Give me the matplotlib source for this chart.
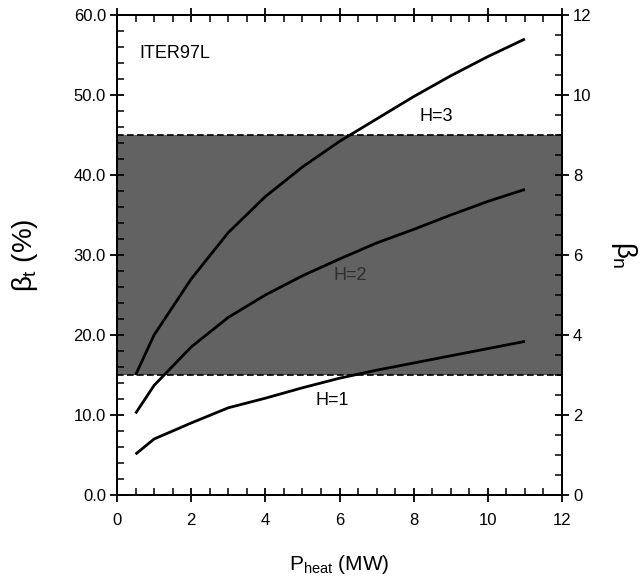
import matplotlib
matplotlib.use("Agg")
import matplotlib.pyplot as plt
from matplotlib.ticker import MultipleLocator, FormatStrFormatter

plt.rcParams['font.family'] = ['Liberation Sans', 'DejaVu Sans']
plt.rcParams['mathtext.fontset'] = 'custom'
plt.rcParams['mathtext.rm'] = 'Liberation Sans'
plt.rcParams['mathtext.it'] = 'Liberation Sans'

# Data
p_heat = [0.5, 1, 2, 3, 4, 5, 6, 7, 8, 9, 10, 11]
beta_h1 = [5.1, 7.0, 9.0, 10.9, 12.1, 13.4, 14.6, 15.6, 16.5, 17.4, 18.3, 19.2]
beta_h2 = [10.2, 13.7, 18.5, 22.2, 25.0, 27.4, 29.5, 31.5, 33.2, 35.0, 36.7, 38.2]
beta_h3 = [15.0, 20.0, 27.0, 32.8, 37.3, 41.0, 44.2, 47.0, 49.8, 52.4, 54.8, 57.0]
band_low, band_high = 15.0, 45.0
curve_labels = ["H=1", "H=2", "H=3"]
label_pos = [(5.8, 11.8), (6.3, 27.5), (8.6, 47.3)]
label_colors = ['black', '#2e2e2e', 'black']

fig = plt.figure(figsize=(6.41, 5.77), dpi=100)
ax = fig.add_axes([117/641, 1 - 495/577, 445/641, 480/577])

ax.axhspan(band_low, band_high, color='#626262', zorder=1, lw=0)
ax.axhline(band_low, color='black', ls=(0, (4, 2)), lw=1.2, zorder=2)
ax.axhline(band_high, color='black', ls=(0, (4, 2)), lw=1.2, zorder=2)

for ys in (beta_h1, beta_h2, beta_h3):
    ax.plot(p_heat, ys, color='black', lw=2.0, zorder=3, solid_capstyle='butt')

for lab, (lx, ly), c in zip(curve_labels, label_pos, label_colors):
    ax.text(lx, ly, lab, fontsize=13, ha='center', va='center', color=c, zorder=4)

ax.text(0.6, 55.2, "ITER97L", fontsize=13, ha='left', va='center')

ax.set_xlim(0, 12)
ax.set_ylim(0, 60)
ax.xaxis.set_major_locator(MultipleLocator(2))
ax.xaxis.set_minor_locator(MultipleLocator(0.5))
ax.yaxis.set_major_locator(MultipleLocator(10))
ax.yaxis.set_minor_locator(MultipleLocator(2))
ax.yaxis.set_major_formatter(FormatStrFormatter('%.1f'))

for s in ax.spines.values():
    s.set_linewidth(1.3)

ax.tick_params(axis='both', which='major', direction='inout', length=10, width=1.3,
               labelsize=12, top=True)
ax.tick_params(axis='both', which='minor', direction='in', length=5, width=1.1, top=True)
ax.tick_params(axis='x', which='major', pad=8)
ax.tick_params(axis='y', which='major', pad=3)

ax2 = ax.twinx()
ax2.set_ylim(0, 12)
ax2.yaxis.set_major_locator(MultipleLocator(2))
ax2.yaxis.set_minor_locator(MultipleLocator(0.5))
ax2.tick_params(axis='y', which='major', direction='inout', length=10, width=1.3, labelsize=12, pad=3)
ax2.tick_params(axis='y', which='minor', direction='in', length=5, width=1.1)
for s in ax2.spines.values():
    s.set_linewidth(1.3)

ax.set_xlabel(r"P$_{\mathrm{heat}}$ (MW)", fontsize=15, labelpad=18)
ax.set_ylabel(r"$\beta_{\mathrm{t}}$ (%)", fontsize=20, labelpad=24)
ax2.set_ylabel(r"$\beta_{\mathrm{n}}$", fontsize=20, rotation=-90, labelpad=34)

fig.savefig("out.png", dpi=100)
